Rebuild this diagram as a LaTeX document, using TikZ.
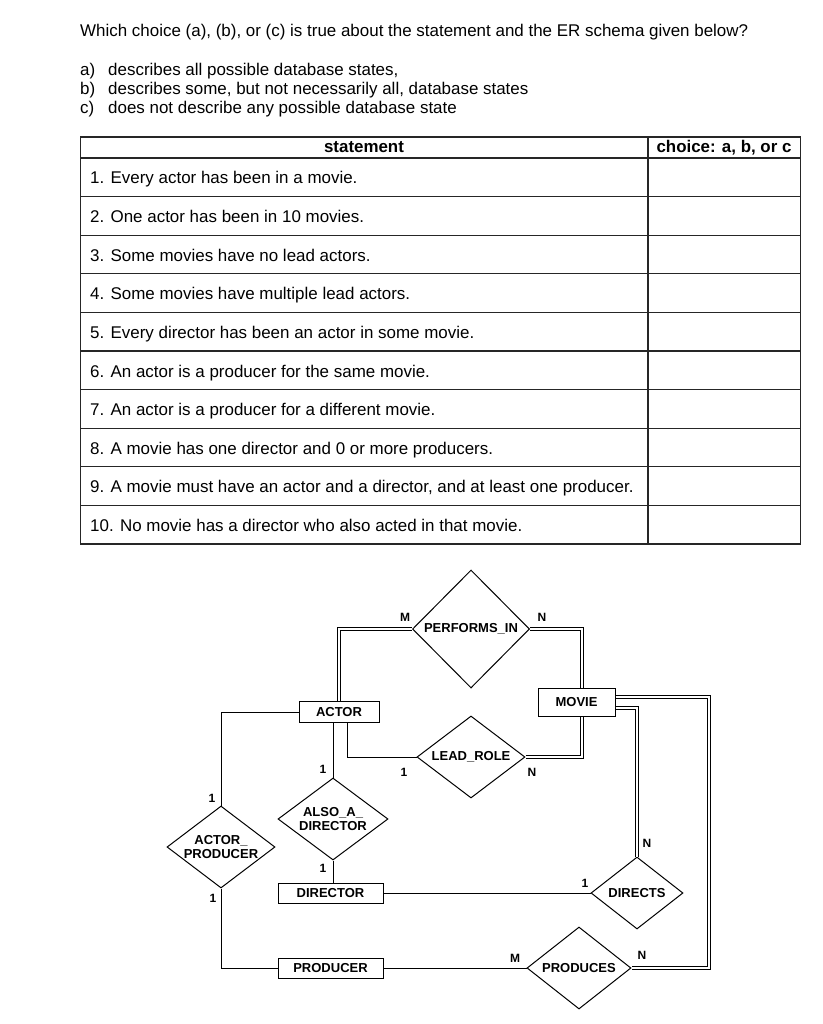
\documentclass[tikz,border=0pt]{standalone}
\usepackage{fontspec}
\setmainfont{Liberation Sans}
\usetikzlibrary{shapes.geometric}
\tikzset{
  txt/.style={anchor=base west, inner sep=0pt, font=\fontsize{16.95}{19}\selectfont},
  hdr/.style={anchor=base, inner sep=0pt, font=\bfseries\fontsize{16.9}{19}\selectfont},
  tbl/.style={line width=1.2pt, black!85},
  ent/.style={draw, line width=1pt, rectangle, inner sep=0pt, font=\bfseries\fontsize{13}{14}\selectfont},
  rel/.style={draw, line width=1pt, diamond, inner sep=0pt, align=center, font=\bfseries\fontsize{13}{13.5}\selectfont},
  conn/.style={line width=1pt},
  dbl/.style={double, double distance=1.7pt, line width=0.9pt},
  card/.style={inner sep=0pt, font=\bfseries\fontsize{12}{13}\selectfont}
}
\begin{document}
\begin{tikzpicture}[x=1pt,y=-1pt]
\useasboundingbox (0,0) rectangle (822,1024);
% ---------- question text ----------
\node[txt] (q) at (80,37) {Which choice (a), (b), or (c) is true about the statement and the ER schema given below?};
\node[txt] (la) at (80,76) {a)};
\node[txt] (ta) at (108,76) {describes all possible database states,};
\node[txt] (lb) at (80,95) {b)};
\node[txt] (tb) at (108,95) {describes some, but not necessarily all, database states};
\node[txt] (lc) at (80,114) {c)};
\node[txt] (tc) at (108,114) {does not describe any possible database state};
% ---------- table ----------
\draw[tbl] (80.7,137) rectangle (800.7,544);
\draw[tbl] (648,137) -- (648,544);
\draw[tbl] (80.7,158) -- (800.7,158);
\foreach \k in {1,...,9}{
  \draw[tbl] (80.7,{158+\k*38.6}) -- (800.7,{158+\k*38.6});
}
\node[hdr] (hs) at (364,153) {statement};
\node[hdr] (hc) at (724,153) {choice: a, b, or c};
\node[txt] (r1) at (90,{184+0*38.6}) {1. Every actor has been in a movie.};
\node[txt] (r2) at (90,{184+1*38.6}) {2. One actor has been in 10 movies.};
\node[txt] (r3) at (90,{184+2*38.6}) {3. Some movies have no lead actors.};
\node[txt] (r4) at (90,{184+3*38.6}) {4. Some movies have multiple lead actors.};
\node[txt] (r5) at (90,{184+4*38.6}) {5. Every director has been an actor in some movie.};
\node[txt] (r6) at (90,{184+5*38.6}) {6. An actor is a producer for the same movie.};
\node[txt] (r7) at (90,{184+6*38.6}) {7. An actor is a producer for a different movie.};
\node[txt] (r8) at (90,{184+7*38.6}) {8. A movie has one director and 0 or more producers.};
\node[txt] (r9) at (90,{184+8*38.6}) {9. A movie must have an actor and a director, and at least one producer.};
\node[txt] (r10) at (90,{184+9*38.6}) {10. No movie has a director who also acted in that movie.};
% ---------- ER diagram ----------
\node[ent, minimum width=80pt, minimum height=21pt] (actor) at (339,712) {ACTOR};
\node[ent, minimum width=77pt, minimum height=28pt] (movie) at (576.5,702) {MOVIE};
\node[ent, minimum width=105pt, minimum height=20pt] (director) at (330.5,893) {DIRECTOR};
\node[ent, minimum width=105pt, minimum height=20pt] (producer) at (330.5,968) {PRODUCER};
\node[rel, aspect=1, minimum width=117pt, minimum height=118pt] (perf) at (471,629) {PERFORMS\_IN};
\node[rel, aspect=1.32, minimum width=108pt, minimum height=82pt] (lead) at (471,757) {LEAD\_ROLE};
\node[rel, aspect=1.34, minimum width=110pt, minimum height=82pt] (aad) at (333,819) {ALSO\_A\_\\DIRECTOR};
\node[rel, aspect=1.32, minimum width=108pt, minimum height=82pt] (ap) at (221,847) {ACTOR\_\\PRODUCER};
\node[rel, aspect=1.28, minimum width=92pt, minimum height=72pt] (directs) at (637,893) {DIRECTS};
\node[rel, aspect=1.27, minimum width=104pt, minimum height=82pt] (produces) at (579,968) {PRODUCES};
\coordinate (pc) at (709,968);
% connectors
\draw[dbl] (actor.north) |- (perf.west);
\draw[dbl] (perf.east) -| ([xshift=5.5pt]movie.north);
\draw[conn] ([xshift=8.7pt]actor.south) |- (lead.west);
\draw[dbl] (lead.east) -| ([xshift=5.5pt]movie.south);
\draw[conn] (actor.west) -| (ap.north);
\draw[conn] (aad.north |- actor.south) -- (aad.north);
\draw[conn] (aad.south) -- (aad.south |- director.north);
\draw[conn] (ap.south) |- (producer.west);
\draw[conn] (director.east) -- (directs.west);
\draw[conn] (producer.east) -- (produces.west);
\draw[dbl] ([yshift=-6pt]movie.east) -| (directs.north);
\draw[dbl] ([yshift=5pt]movie.east) -| (pc) -- (produces.east);
% cardinalities
\node[card] (c1) at (405,617) {M};
\node[card] (c2) at (542,617) {N};
\node[card] (c3) at (404,772) {1};
\node[card] (c4) at (532,772) {N};
\node[card] (c5) at (212,798) {1};
\node[card] (c6) at (213,898) {1};
\node[card] (c7) at (323,769) {1};
\node[card] (c8) at (323,868) {1};
\node[card] (c9) at (585,883) {1};
\node[card] (c10) at (647,843) {N};
\node[card] (c11) at (515,958) {M};
\node[card] (c12) at (642,955) {N};
\end{tikzpicture}
\end{document}
